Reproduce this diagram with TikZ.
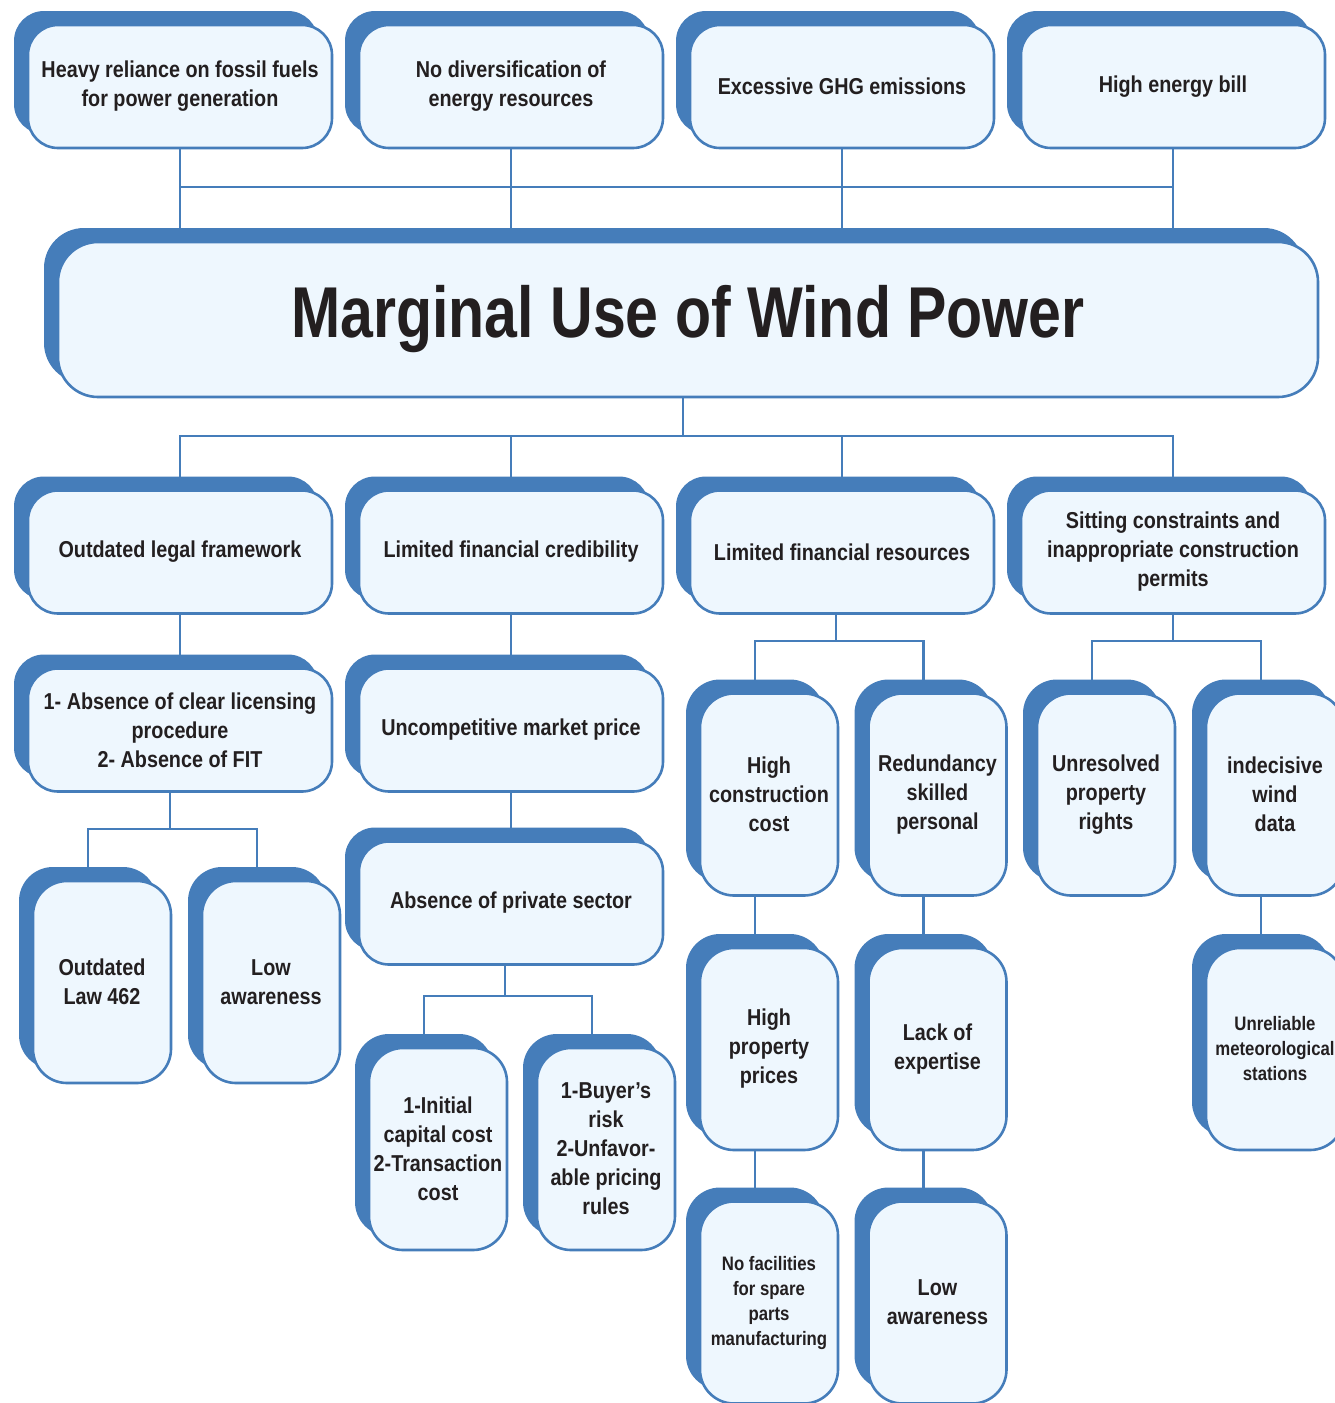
\documentclass[tikz,border=0pt]{standalone}
\usepackage{fontspec}
\setmainfont{Liberation Sans}[FakeStretch=0.86]
\newfontfamily\titlefont{Liberation Sans}[FakeStretch=0.82]
\usetikzlibrary{shadows,backgrounds,calc}
\definecolor{bblue}{HTML}{457DBA}
\definecolor{bfill}{HTML}{EEF7FE}
\definecolor{ink}{HTML}{231F20}
\tikzset{
  card/.style={draw=bblue, line width=2.6pt, fill=bfill, rounded corners=30pt,
    outer sep=0pt, inner sep=0pt, align=center, text=ink,
    font=\bfseries\fontsize{23}{29}\selectfont,
    drop shadow={shadow xshift=-14pt, shadow yshift=14pt, opacity=1, fill=bblue}},
  wide/.style={card, minimum width=304pt, minimum height=123pt},
  tall/.style={card, minimum width=138pt, minimum height=202pt, rounded corners=34pt},
  small/.style={font=\bfseries\fontsize{19.5}{25}\selectfont},
  link/.style={draw=bblue, line width=2.6pt}
}
\begin{document}
\begin{tikzpicture}[x=1pt,y=-1pt]
\useasboundingbox (0,0) rectangle (1335,1403);
\clip (0,0) rectangle (1335,1403);

% top row: consequences
\node[wide] (t1) at (180,86.5) {Heavy reliance on fossil fuels\\for power generation};
\node[wide] (t2) at (511,86.5) {No diversification of\\energy resources};
\node[wide] (t3) at (842,86.5) {Excessive GHG emissions};
\node[wide] (t4) at (1173,86.5) {High energy bill};

% central problem
\node[card, minimum width=1260pt, minimum height=155pt, rounded corners=40pt,
      font=\titlefont\bfseries\fontsize{72}{80}\selectfont] (m) at (688,319.5)
      {\raisebox{-5pt}{Marginal Use of Wind Power}};

% second row: main causes
\node[wide] (r1) at (180,552) {Outdated legal framework};
\node[wide] (r2) at (511,552) {Limited financial credibility};
\node[wide] (r3) at (842,552) {Limited financial resources};
\node[wide] (r4) at (1173,552) {Sitting constraints and\\inappropriate construction\\permits};

% legal branch
\node[wide] (a1) at (180,730) {1- Absence of clear licensing\\procedure\\2- Absence of FIT};
\node[tall] (c1) at (102,982) {Outdated\\Law 462};
\node[tall] (c2) at (271,982) {Low\\awareness};

% credibility branch
\node[wide] (b1) at (511,730) {Uncompetitive market price};
\node[wide] (b2) at (511,903) {Absence of private sector};
\node[tall] (d1) at (438,1149) {1-Initial\\capital cost\\2-Transaction\\cost};
\node[tall] (d2) at (606,1149) {1-Buyer's\\risk\\2-Unfavor-\\able pricing\\rules};

% resources branch
\node[tall] (e1) at (769,794.5) {High\\construction\\cost};
\node[tall] (e2) at (937.5,794.5) {Redundancy\\skilled\\personal};
\node[tall] (e3) at (769,1049) {High\\property\\prices};
\node[tall] (e4) at (937.5,1049) {Lack of\\expertise};
\node[tall, small] (e5) at (769,1302.5) {No facilities\\for spare\\parts\\manufacturing};
\node[tall] (e6) at (937.5,1302.5) {Low\\awareness};

% siting branch
\node[tall] (f1) at (1106,794.5) {Unresolved\\property\\rights};
\node[tall] (f2) at (1275,794.5) {indecisive\\wind\\data};
\node[tall, small] (f3) at (1275,1049) {Unreliable\\meteorological\\stations};

% bus lines
\coordinate (topbus) at (180,187);
\coordinate (mainbus) at (683,436);
\coordinate (bus1) at (170,829);
\coordinate (bus2) at (505,996);
\coordinate (bus3) at (836,641);
\coordinate (bus4) at (1173,641);

\begin{scope}[on background layer]
  \foreach \n in {t1,t2,t3,t4} \draw[link] (\n.south) -- (\n.south |- m.north);
  \draw[link] (t1.south |- topbus) -- (t4.south |- topbus);

  \draw[link] (m.south -| mainbus) -- (mainbus);
  \draw[link] (r1.north) |- (mainbus) -| (r4.north);
  \draw[link] (r2.north) -- (r2.north |- mainbus);
  \draw[link] (r3.north) -- (r3.north |- mainbus);

  \draw[link] (r1.south) -- (a1.north);
  \draw[link] (a1.south -| bus1) -- (bus1);
  \draw[link] ([xshift=-14pt]c1.north) |- (bus1) -| ([xshift=-14pt]c2.north);

  \draw[link] (r2.south) -- (b1.north);
  \draw[link] (b1.south) -- (b2.north);
  \draw[link] (b2.south -| bus2) -- (bus2);
  \draw[link] ([xshift=-14pt]d1.north) |- (bus2) -| ([xshift=-14pt]d2.north);

  \draw[link] (r3.south -| bus3) -- (bus3);
  \draw[link] ([xshift=-14pt]e1.north) |- (bus3) -| ([xshift=-14pt]e2.north);
  \draw[link] ([xshift=-14pt]e1.south) -- ([xshift=-14pt]e3.north);
  \draw[link] ([xshift=-14pt]e3.south) -- ([xshift=-14pt]e5.north);
  \draw[link] ([xshift=-14pt]e2.south) -- ([xshift=-14pt]e4.north);
  \draw[link] ([xshift=-14pt]e4.south) -- ([xshift=-14pt]e6.north);

  \draw[link] (r4.south -| bus4) -- (bus4);
  \draw[link] ([xshift=-14pt]f1.north) |- (bus4) -| ([xshift=-14pt]f2.north);
  \draw[link] ([xshift=-14pt]f2.south) -- ([xshift=-14pt]f3.north);
\end{scope}
\end{tikzpicture}
\end{document}
